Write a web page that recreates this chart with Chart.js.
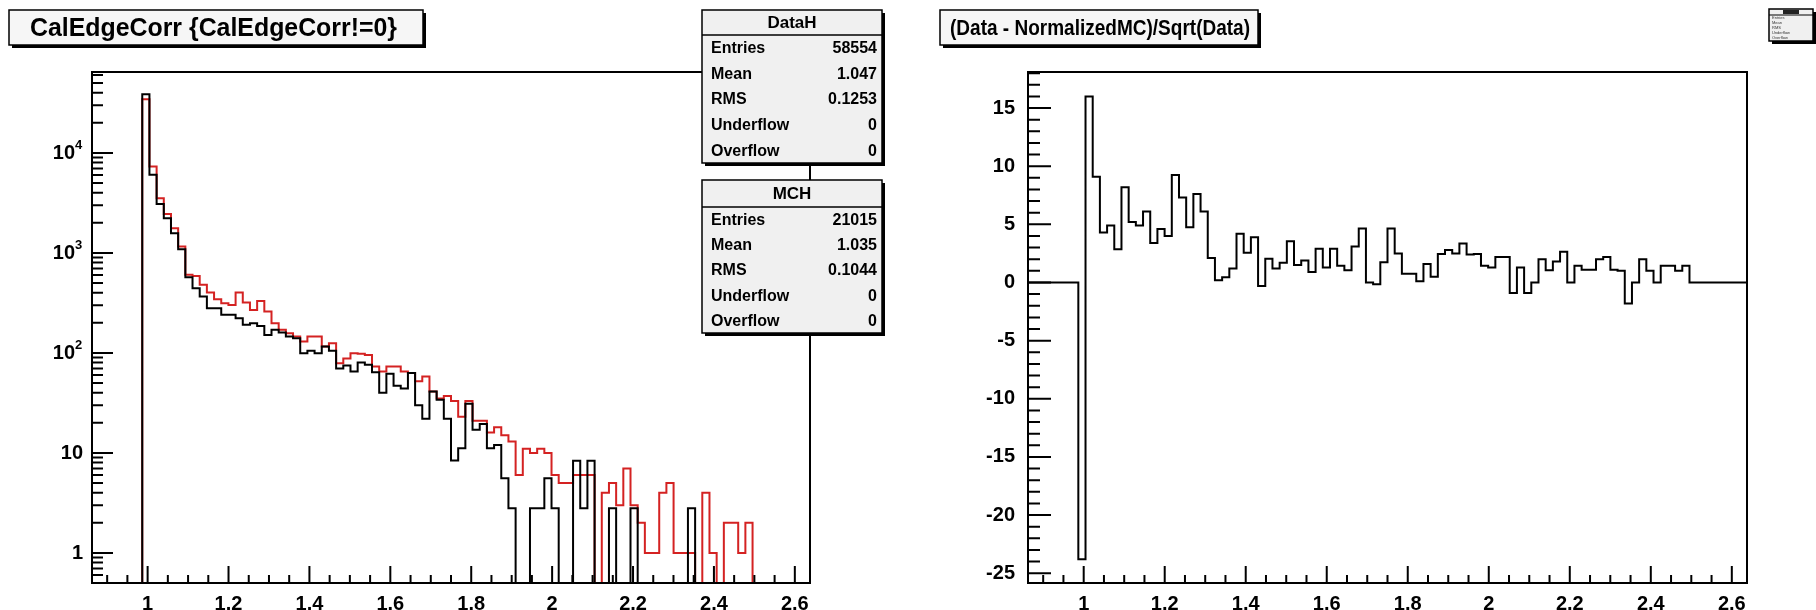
<!DOCTYPE html>
<html>
<head>
<meta charset="utf-8">
<script src="https://cdn.jsdelivr.net/npm/chart.js@4.4.0/dist/chart.umd.min.js"></script>
<style>
html, body { margin: 0; padding: 0; background: #fff; }
#wrap { position: relative; width: 1816px; height: 610px; overflow: hidden; background: #fff; }
canvas { position: absolute; top: 0; }
</style>
</head>
<body>
<div id="wrap">
  <canvas id="left" width="908" height="610" style="left:0"></canvas>
  <canvas id="right" width="908" height="610" style="left:908px"></canvas>
</div>
<script>
// binning of both histograms (100 bins)
const binLow = 0.8625;
const binWidth = 0.01775;
const nBins = 100;
const firstBin = 7;   // first filled bin, arrays below start here

// left: data (red) and normalized MC (black), bins 7..91
const dataH = [34400, 7300, 3520, 2450, 1765, 1160, 603, 589, 479, 401,
  344, 314, 302, 401, 319, 269, 331, 259, 198, 170,
  157, 146, 130, 146, 146, 116, 125, 79, 88, 99,
  98, 95, 73, 65, 73, 73, 65, 63, 52, 58,
  41, 35, 37, 33, 23, 33, 21, 21, 16, 18,
  15, 13, 6, 11, 10, 11, 10, 6, 5, 5,
  6, 6, 6, 0, 4, 5, 3, 7, 3, 2,
  1, 1, 4, 5, 1, 1, 1, 0, 4, 1,
  0, 2, 2, 1, 2];
const mcH = [38600, 6030, 3090, 2220, 1570, 1090, 571, 443, 366, 280,
  280, 240, 240, 222, 191, 198, 186, 151, 170, 160,
  146, 140, 99, 105, 99, 116, 105, 70, 75, 65,
  80, 76, 64, 40, 62, 47, 44, 63, 30, 22,
  41, 34, 22, 8.4, 11.1, 31, 17, 19.5, 11.1, 12,
  5.57, 2.79, 0, 0, 2.79, 2.79, 5.57, 2.79, 0, 0,
  8.36, 2.79, 8.36, 0, 0, 2.79, 0, 0, 2.79, 0,
  0, 0, 0, 0, 0, 0, 2.79, 0, 0, 0,
  0, 0, 0, 0, 0];

// right: (Data - NormalizedMC)/Sqrt(Data), bins 7..91
const resid = [-23.8, 16, 9.1, 4.3, 4.9, 2.85, 8.2, 5.2, 4.9, 6.1,
  3.4, 4.6, 4.0, 9.25, 7.3, 4.75, 7.6, 6.1, 2.1, 0.2,
  0.45, 1.2, 4.2, 2.55, 3.9, -0.3, 2.05, 1.2, 1.7, 3.55,
  1.5, 1.9, 0.9, 2.9, 1.3, 2.9, 1.45, 1.05, 3.1, 4.65,
  0, -0.15, 1.75, 4.65, 2.5, 0.75, 0.75, 0.1, 1.6, 0.5,
  2.45, 2.8, 2.5, 3.35, 2.4, 2.45, 1.45, 1.3, 2.2, 2.2,
  -0.9, 1.3, -0.9, 0, 2.0, 1.05, 1.8, 2.65, 0, 1.45,
  1.1, 1.1, 2.0, 2.2, 1.1, 1.0, -1.8, 0, 2.0, 1.0,
  0, 1.45, 1.45, 1.0, 1.45];

const xTicks = [1, 1.2, 1.4, 1.6, 1.8, 2, 2.2, 2.4, 2.6];
const logTicks = [1, 10, 100, 1000, 10000];
const logBases = ['1', '10', '10', '10', '10'];
const logExps = ['', '', '2', '3', '4'];
const residTicks = [-25, -20, -15, -10, -5, 0, 5, 10, 15];

const statNames = ['Entries', 'Mean', 'RMS', 'Underflow', 'Overflow'];
const dataStats = ['58554', '1.047', '0.1253', '0', '0'];
const mcStats = ['21015', '1.035', '0.1044', '0', '0'];

const titleLeft = 'CalEdgeCorr {CalEdgeCorr!=0}';
const titleRight = '(Data - NormalizedMC)/Sqrt(Data)';

const FONT = '"Liberation Sans", Arial, Helvetica, sans-serif';
const RED = '#d42222';

function histPoints(vals, floor) {
  const pts = [];
  for (let i = 0; i < nBins; i++) {
    const k = i - firstBin;
    let v = (k >= 0 && k < vals.length) ? vals[k] : 0;
    if (floor !== undefined && v < floor) v = floor;   // empty bins sit on the frame bottom
    pts.push({x: binLow + i * binWidth, y: v});
  }
  pts.push({x: binLow + nBins * binWidth, y: pts[pts.length - 1].y});
  return pts;
}

function xScaleOpts() {
  return {
    type: 'linear',
    min: binLow,
    max: binLow + nBins * binWidth,
    grid: {display: false},
    border: {display: false},
    afterBuildTicks: s => { s.ticks = xTicks.map(v => ({value: v})); },
    afterFit: s => { s.height = 27; },
    ticks: {
      font: {family: FONT, weight: 'bold', size: 20},
      color: '#000', padding: 1, maxRotation: 0, autoSkip: false,
      callback: v => String(v)
    }
  };
}

function drawFrame(chart) {
  const a = chart.chartArea, ctx = chart.ctx;
  ctx.save();
  ctx.strokeStyle = '#000';
  ctx.lineWidth = 2;
  ctx.strokeRect(a.left, a.top, a.right - a.left, a.bottom - a.top);
  // x ticks, inside the frame
  const sx = chart.scales.x;
  ctx.beginPath();
  for (let k = 18; k <= 52; k++) {
    const px = sx.getPixelForValue(k / 20);
    const len = (k % 4 === 0) ? 17 : 8;
    ctx.moveTo(px, a.bottom);
    ctx.lineTo(px, a.bottom - len);
  }
  ctx.stroke();
  ctx.restore();
}

function drawBox(ctx, x, y, w, h, fill) {
  ctx.fillStyle = '#000';
  ctx.fillRect(x + 3, y + 3, w, h);
  ctx.fillStyle = fill;
  ctx.fillRect(x, y, w, h);
  ctx.strokeStyle = '#000';
  ctx.lineWidth = 1.5;
  ctx.strokeRect(x, y, w, h);
}

// title box: text at the given size, squeezed to the width it has in the picture
function drawTitle(ctx, x, text, size, textW, padL, padR) {
  ctx.save();
  ctx.font = 'bold ' + size + 'px ' + FONT;
  const sx = Math.min(1, textW / ctx.measureText(text).width);
  drawBox(ctx, x, 10, textW + padL + padR, 35, '#f6f6f6');
  ctx.fillStyle = '#000';
  ctx.textAlign = 'left';
  ctx.textBaseline = 'middle';
  ctx.translate(x + padL, 29);
  ctx.scale(sx, 1);
  ctx.fillText(text, 0, 0);
  ctx.restore();
}

function drawStats(ctx, x, y, w, h, headH, name, vals) {
  ctx.save();
  drawBox(ctx, x, y, w, h, '#f0f0f0');
  ctx.beginPath();
  ctx.moveTo(x, y + headH);
  ctx.lineTo(x + w, y + headH);
  ctx.lineWidth = 1.5;
  ctx.stroke();
  ctx.fillStyle = '#000';
  ctx.textBaseline = 'middle';
  ctx.font = 'bold 17px ' + FONT;
  ctx.textAlign = 'center';
  ctx.fillText(name, x + w / 2, y + headH / 2 + 1);
  const rowH = (h - headH) / statNames.length;
  ctx.font = 'bold 16px ' + FONT;
  statNames.forEach((n, i) => {
    const cy = y + headH + rowH * (i + 0.5) + 1;
    ctx.textAlign = 'left';
    ctx.fillText(n, x + 9, cy);
    if (vals) {
      ctx.textAlign = 'right';
      ctx.fillText(vals[i], x + w - 5, cy);
    }
  });
  ctx.restore();
}

const leftDecor = {
  id: 'leftDecor',
  afterDatasetsDraw(chart) {
    const ctx = chart.ctx, a = chart.chartArea, sy = chart.scales.y;
    drawFrame(chart);
    ctx.save();
    ctx.lineWidth = 2;
    ctx.beginPath();
    for (let d = -1; d <= 4; d++) {
      for (let m = 1; m <= 9; m++) {
        const v = m * Math.pow(10, d);
        if (v < 0.5 || v > 64400) continue;
        const py = sy.getPixelForValue(v);
        const len = m === 1 ? 21 : 11;
        ctx.moveTo(a.left, py);
        ctx.lineTo(a.left + len, py);
      }
    }
    ctx.stroke();
    ctx.fillStyle = '#000';
    ctx.textBaseline = 'middle';
    logTicks.forEach((v, i) => {
      const py = sy.getPixelForValue(v);
      if (logExps[i] === '') {
        ctx.font = 'bold 20px ' + FONT;
        ctx.textAlign = 'right';
        ctx.fillText(logBases[i], 83, py + 1);
      } else {
        ctx.font = 'bold 20px ' + FONT;
        ctx.textAlign = 'right';
        ctx.fillText(logBases[i], 75, py + 1);
        ctx.font = 'bold 13px ' + FONT;
        ctx.textAlign = 'left';
        ctx.fillText(logExps[i], 75, py - 7);
      }
    });
    ctx.restore();
  },
  afterDraw(chart) {
    const ctx = chart.ctx;
    drawTitle(ctx, 9, titleLeft, 25, 367, 21, 26);
    drawStats(ctx, 702, 10, 180, 153, 25, 'DataH', dataStats);
    drawStats(ctx, 702, 180, 180, 153, 27, 'MCH', mcStats);
  }
};

const rightDecor = {
  id: 'rightDecor',
  afterDatasetsDraw(chart) {
    const ctx = chart.ctx, a = chart.chartArea, sy = chart.scales.y;
    drawFrame(chart);
    ctx.save();
    ctx.lineWidth = 2;
    ctx.beginPath();
    for (let k = -25; k <= 18; k++) {
      const py = sy.getPixelForValue(k);
      const len = (k % 5 === 0) ? 23 : 12;
      ctx.moveTo(a.left, py);
      ctx.lineTo(a.left + len, py);
    }
    ctx.stroke();
    ctx.restore();
  },
  afterDraw(chart) {
    const ctx = chart.ctx;
    drawTitle(ctx, 32, titleRight, 22, 300, 10, 8);
    // tiny stats box in the corner
    ctx.save();
    const x = 861, y = 9, w = 44, h = 32;
    drawBox(ctx, x, y, w, h, '#f0f0f0');
    ctx.fillStyle = '#222';
    ctx.fillRect(x + 14, y + 1, 16, 4);
    ctx.beginPath();
    ctx.moveTo(x, y + 6);
    ctx.lineTo(x + w, y + 6);
    ctx.lineWidth = 1;
    ctx.stroke();
    ctx.font = '4px ' + FONT;
    ctx.fillStyle = '#333';
    ctx.textBaseline = 'middle';
    statNames.forEach((n, i) => {
      ctx.fillText(n, x + 3, y + 9 + i * 5);
    });
    ctx.restore();
  }
};

const lineStyle = {
  borderWidth: 2,
  stepped: 'before',
  pointRadius: 0,
  fill: false,
  tension: 0
};

new Chart(document.getElementById('left'), {
  type: 'line',
  data: {
    datasets: [
      Object.assign({label: 'MCH', data: histPoints(mcH, 0.5), borderColor: '#000', order: 0}, lineStyle),
      Object.assign({label: 'DataH', data: histPoints(dataH, 0.5), borderColor: RED, order: 1}, lineStyle)
    ]
  },
  options: {
    responsive: false,
    animation: false,
    devicePixelRatio: 1,
    layout: {padding: {top: 72, right: 98, left: 0, bottom: 0}},
    plugins: {legend: {display: false}, tooltip: {enabled: false}},
    scales: {
      x: xScaleOpts(),
      y: {
        type: 'logarithmic',
        min: 0.5,
        max: 64400,
        grid: {display: false},
        border: {display: false},
        ticks: {display: false},
        afterFit: s => { s.width = 92; }
      }
    }
  },
  plugins: [leftDecor]
});

new Chart(document.getElementById('right'), {
  type: 'line',
  data: {
    datasets: [
      Object.assign({label: 'ratio', data: histPoints(resid), borderColor: '#000'}, lineStyle)
    ]
  },
  options: {
    responsive: false,
    animation: false,
    devicePixelRatio: 1,
    layout: {padding: {top: 72, right: 69, left: 0, bottom: 0}},
    plugins: {legend: {display: false}, tooltip: {enabled: false}},
    scales: {
      x: xScaleOpts(),
      y: {
        type: 'linear',
        min: -25.84,
        max: 18.1,
        grid: {display: false},
        border: {display: false},
        afterBuildTicks: s => { s.ticks = residTicks.map(v => ({value: v})); },
        afterFit: s => { s.width = 120; },
        ticks: {
          font: {family: FONT, weight: 'bold', size: 20},
          color: '#000', padding: 5, autoSkip: false,
          callback: v => String(v)
        }
      }
    }
  },
  plugins: [rightDecor]
});
</script>
</body>
</html>
